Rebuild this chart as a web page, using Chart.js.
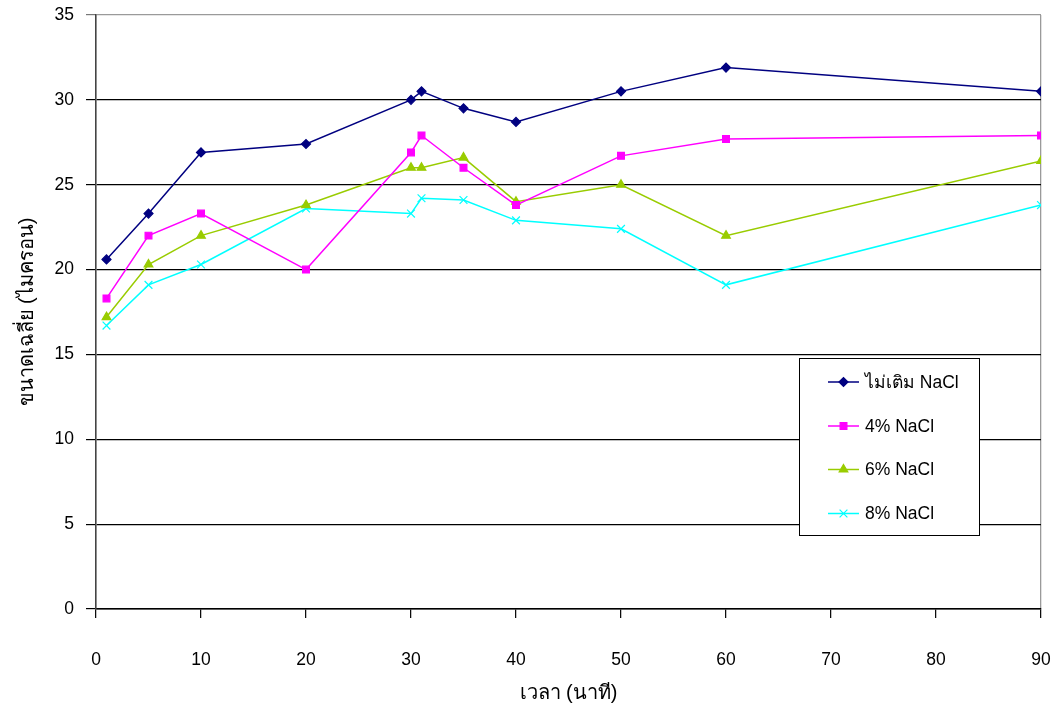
<!DOCTYPE html>
<html>
<head>
<meta charset="utf-8">
<script src="https://cdn.jsdelivr.net/npm/chart.js@4/dist/chart.umd.min.js"></script>
<style>
  html, body { margin: 0; padding: 0; background: #fff; }
  #wrap { width: 1058px; height: 706px; position: relative; }
</style>
</head>
<body>
<div id="wrap"><canvas id="c" width="1058" height="706"></canvas></div>
<script>
// Sampling times (minutes)
const times = [1, 5, 10, 20, 30, 31, 35, 40, 50, 60, 90];

// Mean particle size (micron) per treatment
const noNaCl = [20.6, 23.3, 26.9, 27.4, 30.0, 30.5, 29.5, 28.7, 30.5, 31.9, 30.5];
const nacl4  = [18.3, 22.0, 23.3, 20.0, 26.9, 27.9, 26.0, 23.8, 26.7, 27.7, 27.9];
const nacl6  = [17.2, 20.3, 22.0, 23.8, 26.0, 26.0, 26.6, 24.0, 25.0, 22.0, 26.4];
const nacl8  = [16.7, 19.1, 20.3, 23.6, 23.3, 24.2, 24.1, 22.9, 22.4, 19.1, 23.8];

const seriesLabels = ['ไม่เติม NaCl', '4% NaCl', '6% NaCl', '8% NaCl'];
const xTitle = 'เวลา (นาที)';
const yTitle = 'ขนาดเฉลี่ย (ไมครอน)';

const FONT = '"Liberation Sans", Arial, "DejaVu Sans", "Noto Sans", sans-serif';

const toPoints = (vals) => vals.map((v, i) => ({ x: times[i], y: v }));

const styles = [
  { color: '#000080', pointStyle: 'rectRot', radius: 4.5 },
  { color: '#FF00FF', pointStyle: 'rect', radius: 4.8 },
  { color: '#99CC00', pointStyle: 'triangle', radius: 5 },
  { color: '#00FFFF', pointStyle: 'crossRot', radius: 5.5 }
];

const series = [noNaCl, nacl4, nacl6, nacl8];

const datasets = series.map((vals, i) => ({
  label: seriesLabels[i],
  data: toPoints(vals),
  borderColor: styles[i].color,
  backgroundColor: styles[i].color,
  pointBackgroundColor: styles[i].color,
  pointBorderColor: styles[i].color,
  pointStyle: styles[i].pointStyle,
  pointRadius: styles[i].radius,
  pointBorderWidth: 1.2,
  borderWidth: 1.5,
  tension: 0,
  fill: false
}));

// Boxed legend drawn inside the plot area
const boxLegend = {
  id: 'boxLegend',
  afterDraw(chart) {
    const ctx = chart.ctx;
    const bx = 799.5, by = 358.5, bw = 180, bh = 177;
    ctx.save();
    ctx.fillStyle = '#fff';
    ctx.fillRect(bx, by, bw, bh);
    ctx.strokeStyle = '#000';
    ctx.lineWidth = 1;
    ctx.strokeRect(bx, by, bw, bh);
    const rows = [382, 426, 469.5, 513.5];
    chart.data.datasets.forEach((ds, i) => {
      const y = rows[i];
      ctx.strokeStyle = ds.borderColor;
      ctx.lineWidth = 1.5;
      ctx.beginPath();
      ctx.moveTo(828, y);
      ctx.lineTo(859, y);
      ctx.stroke();
      ctx.fillStyle = ds.pointBackgroundColor;
      ctx.strokeStyle = ds.pointBorderColor;
      ctx.lineWidth = 1.2;
      Chart.helpers.drawPoint(ctx, {
        pointStyle: ds.pointStyle,
        radius: ds.pointRadius,
        rotation: 0,
        borderWidth: 1.2
      }, 843.5, y);
      ctx.fillStyle = '#000';
      ctx.font = '17.5px ' + FONT;
      ctx.textBaseline = 'middle';
      ctx.textAlign = 'left';
      ctx.fillText(ds.label, 865, y + 1);
    });
    ctx.restore();
  }
};

new Chart(document.getElementById('c'), {
  type: 'line',
  data: { datasets },
  options: {
    responsive: false,
    animation: false,
    devicePixelRatio: 1,
    layout: { padding: { top: 15, right: 17, left: 0, bottom: 0 } },
    plugins: {
      legend: { display: false },
      tooltip: { enabled: false }
    },
    scales: {
      x: {
        type: 'linear',
        min: 0,
        max: 90,
        afterFit(scale) {
          scale.height = 97;
          scale.paddingLeft = 0;
          scale.paddingRight = 0;
        },
        ticks: {
          stepSize: 10,
          autoSkip: false,
          maxRotation: 0,
          padding: 32,
          color: '#000',
          font: { family: FONT, size: 17.5 }
        },
        grid: {
          drawOnChartArea: true,
          color: (c) => (c.tick && c.tick.value === 90 ? '#9a9a9a' : 'rgba(0,0,0,0)'),
          lineWidth: 1.3,
          tickLength: 9,
          tickColor: '#000',
          tickWidth: 1.2
        },
        border: { display: true, color: '#000', width: 1.5 },
        title: {
          display: true,
          text: xTitle,
          color: '#000',
          font: { family: FONT, size: 20 },
          padding: { top: 0, bottom: 1 }
        }
      },
      y: {
        min: 0,
        max: 35,
        afterFit(scale) {
          scale.width = 96;
          scale.paddingTop = 0;
          scale.paddingBottom = 0;
        },
        ticks: {
          stepSize: 5,
          padding: 12,
          color: '#000',
          font: { family: FONT, size: 17.5 }
        },
        grid: {
          color: (c) => (c.tick && c.tick.value === 35 ? '#9a9a9a' : '#000'),
          lineWidth: 1.2,
          tickLength: 10,
          tickColor: (c) => (c.tick && c.tick.value === 35 ? '#777' : '#000')
        },
        border: { display: true, color: '#444', width: 1.6 },
        title: {
          display: true,
          text: yTitle,
          color: '#000',
          font: { family: FONT, size: 20 },
          padding: { top: 15, bottom: 0 }
        }
      }
    }
  },
  plugins: [boxLegend]
});
</script>
</body>
</html>
